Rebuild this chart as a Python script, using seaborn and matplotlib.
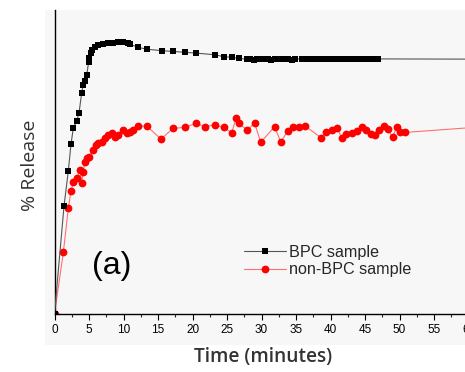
import matplotlib
matplotlib.use("Agg")
import matplotlib.pyplot as plt
import seaborn as sns
import pandas as pd
from matplotlib.patches import Rectangle

# BPC sample (black squares): time in minutes, % release
bpc_time = [0, 1.38, 2.0, 2.39, 2.72, 3.22, 3.55, 3.94, 4.17, 4.42, 4.67, 4.96, 5.04,
            5.25, 5.48, 5.87, 6.35, 7.07, 7.8, 8.52, 9.25, 9.97, 10.7, 10.94, 12.14,
            13.36, 15.54, 17.2, 18.9, 20.5, 23.3, 24.5, 25.7, 26.7, 27.9,
            28.4, 28.9, 29.4, 29.9, 30.4, 30.9, 31.4, 31.9, 32.4, 32.9, 33.4, 33.9,
            34.4, 34.9,
            35.9, 36.4, 36.9, 37.4, 37.9, 38.4, 38.9, 39.4, 39.9, 40.4, 40.9, 41.4,
            41.9, 42.4, 42.9, 43.4, 43.9, 44.4, 44.9, 45.4, 45.9, 46.4, 46.9,
            64.0]
bpc_release = [0, 39.1, 51.7, 61.4, 67.2, 69.9, 72.6, 80.1, 82.9, 84.4, 86.5, 91.3, 92.7,
               94.3, 95.5, 96.7, 97.3, 97.7, 97.9, 98.2, 98.4, 98.5, 97.9, 97.6, 96.5,
               95.8, 95.3, 95.0, 94.7, 94.4, 93.8, 93.1, 92.9, 92.5, 92.2,
               92.4, 92.0, 92.3, 92.1, 92.4, 92.2, 92.0, 92.3, 92.2, 92.1, 92.4, 92.2,
               92.0, 92.3,
               92.3, 92.2, 92.4, 92.1, 92.3, 92.2, 92.4, 92.2, 92.1, 92.3, 92.2, 92.4,
               92.2, 92.1, 92.3, 92.2, 92.2, 92.4, 92.1, 92.3, 92.2, 92.2, 92.3,
               92.2]

# non-BPC sample (red circles)
non_time = [0, 1.28, 2.0, 2.39, 2.72, 3.22, 3.70, 3.94, 4.17, 4.42, 4.75, 5.04, 5.54,
            6.01, 6.35, 6.84, 7.32, 7.80, 8.29, 8.77, 9.25, 9.97, 10.46, 10.94, 11.42,
            12.14, 13.36, 15.43, 17.2, 18.9, 20.5, 21.8, 23.2, 24.5, 25.7, 26.3, 26.7,
            27.9, 29.0, 29.9, 31.9, 32.8, 33.8, 34.6, 35.5, 36.3,
            38.6, 39.4, 40.2, 41.0, 41.6, 42.3, 43.1, 43.8, 44.5, 45.2, 45.9, 46.4,
            47.1, 47.8, 48.3, 49.0, 49.6, 50.1, 50.8,
            64.0]
non_release = [0, 22.3, 38.2, 44.5, 47.6, 49.1, 52.1, 47.5, 51.5, 55.1, 56.3, 56.9, 59.3,
               61.1, 61.8, 62.3, 63.6, 64.8, 65.4, 64.1, 64.8, 66.6, 65.4, 66.0, 66.6,
               68.0, 68.0, 63.3, 67.2, 67.5, 69.0, 67.8, 68.4, 67.5, 65.6, 70.8, 69.0,
               66.6, 69.0, 62.1, 67.8, 62.2, 66.3, 67.5, 67.5, 68.1,
               63.8, 65.7, 66.6, 67.2, 63.8, 65.0, 65.6, 66.2, 67.8, 66.6, 65.0, 64.8,
               66.6, 68.1, 66.9, 63.9, 67.8, 66.0, 65.7,
               68.1]

x_ticks = [0, 5, 10, 15, 20, 25, 30, 35, 40, 45, 50, 55, 60]

sns.set_style("white")
fig = plt.figure(figsize=(4.65, 3.72), dpi=100)
fig.patch.set_facecolor("white")
bg = "#f7f7f7"
fig.add_artist(Rectangle((45 / 465, 27 / 372), 1.0, 335 / 372, transform=fig.transFigure,
                         facecolor=bg, edgecolor="none", zorder=0))

ax = fig.add_axes([54.5 / 465, 58 / 372, 448.5 / 465, 304 / 372])
ax.set_facecolor(bg)

df_bpc = pd.DataFrame({"t": bpc_time, "r": bpc_release})
df_non = pd.DataFrame({"t": non_time, "r": non_release})

sns.lineplot(data=df_bpc, x="t", y="r", ax=ax, color="#555555", linewidth=0.8,
             marker="s", markersize=4.6, markerfacecolor="black", markeredgecolor="black",
             markeredgewidth=0, label="BPC sample", zorder=3)
sns.lineplot(data=df_non, x="t", y="r", ax=ax, color="#ff7070", linewidth=0.8,
             marker="o", markersize=5.6, markerfacecolor="#ff0000", markeredgecolor="#ff0000",
             markeredgewidth=0, label="non-BPC sample", zorder=2)

ax.set_xlim(0, 65)
ax.set_ylim(0, 110)
ax.set_xticks(x_ticks)
ax.set_xticks([v + 2.5 for v in x_ticks], minor=True)
ax.set_xticklabels([str(v) for v in x_ticks], fontsize=8.5, family="Liberation Sans")
ax.set_yticks([])
ax.tick_params(axis="x", which="major", direction="out", length=4, width=0.8,
               bottom=True, pad=3, colors="black")
ax.tick_params(axis="x", which="minor", direction="out", length=2, width=0.8, bottom=True)
for s in ["top", "right"]:
    ax.spines[s].set_visible(False)
for s in ["left", "bottom"]:
    ax.spines[s].set_color("black")
    ax.spines[s].set_linewidth(1.0)

ax.set_xlabel("")
ax.set_ylabel("")
fig.text(263 / 465, 1 - 357 / 372, "Time (minutes)", ha="center", va="center",
         fontsize=13.8, fontweight="semibold", family="Open Sans", color="#333333")
fig.text(30 / 465, 1 - 165 / 372, "% Release", ha="center", va="center", rotation=90,
         fontsize=14, family="Open Sans", color="#333333")

fig.text(92 / 465, 1 - 266 / 372, "(a)", ha="left", va="center", fontsize=23,
         family="Liberation Sans", color="black")

leg = ax.legend(loc="upper left", bbox_to_anchor=(236 / 465, 1 - 237 / 372),
                bbox_transform=fig.transFigure, frameon=False, handlelength=2.6,
                handletextpad=0.2, labelspacing=0.15, borderpad=0,
                prop={"family": "Liberation Sans", "size": 11.6})

fig.savefig("out.png", dpi=100, facecolor="white")
